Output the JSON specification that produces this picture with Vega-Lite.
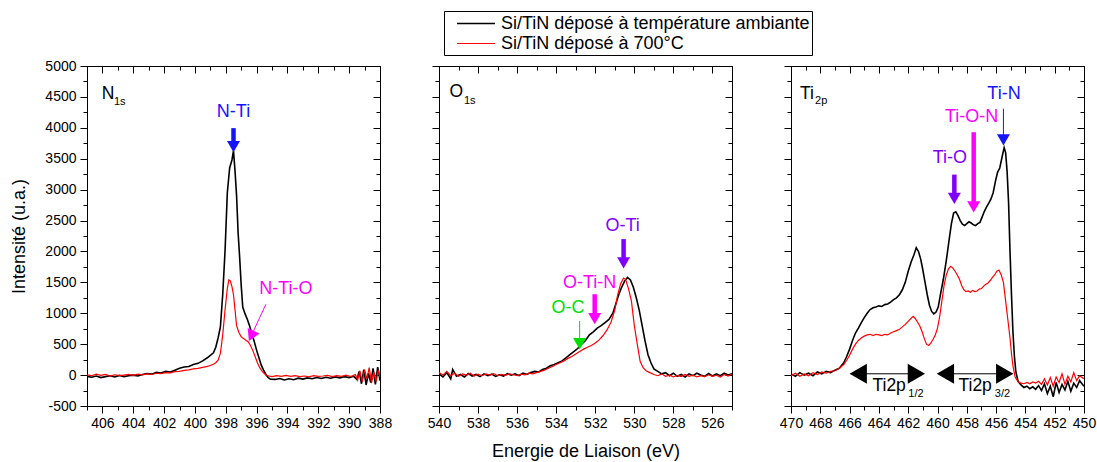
{
"$schema":"https://vega.github.io/schema/vega-lite/v6.json",
"padding":{"left":10,"top":10,"right":4,"bottom":4},
"background":"white",
"spacing":59,
"bounds":"flush",
"config":{"font":"Liberation Sans","axis":{"labelColor":"black","titleColor":"black","tickColor":"black","domainColor":"black","grid":false,"labelFontSize":14,"titleFontSize":18,"titleFontWeight":"normal","tickWidth":1,"domainWidth":1,"labelFlush":false,"labelOverlap":false},"view":{"stroke":"black","strokeWidth":1}},
"datasets":{
"n1s":[
{"E":407.0,"I":-20,"s":"a"},{"E":406.7,"I":-35,"s":"a"},{"E":406.4,"I":-15,"s":"a"},{"E":406.1,"I":-40,"s":"a"},{"E":405.8,"I":-25,"s":"a"},{"E":405.5,"I":-10,"s":"a"},{"E":405.2,"I":-30,"s":"a"},{"E":404.9,"I":-5,"s":"a"},{"E":404.6,"I":-25,"s":"a"},{"E":404.3,"I":-10,"s":"a"},{"E":404.0,"I":0,"s":"a"},{"E":403.7,"I":-15,"s":"a"},{"E":403.4,"I":10,"s":"a"},{"E":403.1,"I":25,"s":"a"},{"E":402.8,"I":15,"s":"a"},{"E":402.5,"I":45,"s":"a"},{"E":402.2,"I":35,"s":"a"},{"E":401.9,"I":60,"s":"a"},{"E":401.6,"I":50,"s":"a"},{"E":401.3,"I":80,"s":"a"},{"E":401.0,"I":110,"s":"a"},{"E":400.7,"I":130,"s":"a"},{"E":400.4,"I":140,"s":"a"},{"E":400.1,"I":170,"s":"a"},{"E":399.8,"I":190,"s":"a"},{"E":399.5,"I":230,"s":"a"},{"E":399.2,"I":280,"s":"a"},{"E":399.0,"I":320,"s":"a"},{"E":398.8,"I":360,"s":"a"},{"E":398.65,"I":450,"s":"a"},{"E":398.5,"I":600,"s":"a"},{"E":398.35,"I":780,"s":"a"},{"E":398.2,"I":1300,"s":"a"},{"E":398.05,"I":2000,"s":"a"},{"E":397.9,"I":2950,"s":"a"},{"E":397.75,"I":3350,"s":"a"},{"E":397.6,"I":3480,"s":"a"},{"E":397.5,"I":3630,"s":"a"},{"E":397.4,"I":3300,"s":"a"},{"E":397.3,"I":2900,"s":"a"},{"E":397.2,"I":2300,"s":"a"},{"E":397.1,"I":1900,"s":"a"},{"E":397.0,"I":1450,"s":"a"},{"E":396.9,"I":1100,"s":"a"},{"E":396.75,"I":990,"s":"a"},{"E":396.6,"I":900,"s":"a"},{"E":396.45,"I":790,"s":"a"},{"E":396.3,"I":660,"s":"a"},{"E":396.15,"I":540,"s":"a"},{"E":396.0,"I":400,"s":"a"},{"E":395.85,"I":280,"s":"a"},{"E":395.7,"I":160,"s":"a"},{"E":395.55,"I":80,"s":"a"},{"E":395.4,"I":10,"s":"a"},{"E":395.25,"I":-40,"s":"a"},{"E":395.1,"I":-65,"s":"a"},{"E":394.8,"I":-70,"s":"a"},{"E":394.5,"I":-55,"s":"a"},{"E":394.2,"I":-80,"s":"a"},{"E":393.9,"I":-60,"s":"a"},{"E":393.6,"I":-75,"s":"a"},{"E":393.3,"I":-50,"s":"a"},{"E":393.0,"I":-65,"s":"a"},{"E":392.7,"I":-45,"s":"a"},{"E":392.4,"I":-60,"s":"a"},{"E":392.1,"I":-40,"s":"a"},{"E":391.8,"I":-55,"s":"a"},{"E":391.5,"I":-35,"s":"a"},{"E":391.2,"I":-50,"s":"a"},{"E":390.9,"I":-30,"s":"a"},{"E":390.6,"I":-45,"s":"a"},{"E":390.3,"I":-25,"s":"a"},{"E":390.0,"I":-40,"s":"a"},{"E":389.7,"I":-20,"s":"a"},{"E":389.5,"I":-70,"s":"a"},{"E":389.35,"I":60,"s":"a"},{"E":389.2,"I":-140,"s":"a"},{"E":389.05,"I":90,"s":"a"},{"E":388.9,"I":-160,"s":"a"},{"E":388.75,"I":30,"s":"a"},{"E":388.6,"I":-120,"s":"a"},{"E":388.45,"I":110,"s":"a"},{"E":388.3,"I":-150,"s":"a"},{"E":388.15,"I":130,"s":"a"},{"E":388.0,"I":-90,"s":"a"},
{"E":407.0,"I":5,"s":"b"},{"E":406.7,"I":-10,"s":"b"},{"E":406.4,"I":15,"s":"b"},{"E":406.1,"I":-5,"s":"b"},{"E":405.8,"I":10,"s":"b"},{"E":405.5,"I":-15,"s":"b"},{"E":405.2,"I":5,"s":"b"},{"E":404.9,"I":-10,"s":"b"},{"E":404.6,"I":0,"s":"b"},{"E":404.3,"I":10,"s":"b"},{"E":404.0,"I":-5,"s":"b"},{"E":403.7,"I":15,"s":"b"},{"E":403.4,"I":5,"s":"b"},{"E":403.1,"I":20,"s":"b"},{"E":402.8,"I":10,"s":"b"},{"E":402.5,"I":30,"s":"b"},{"E":402.2,"I":25,"s":"b"},{"E":401.9,"I":40,"s":"b"},{"E":401.6,"I":35,"s":"b"},{"E":401.3,"I":55,"s":"b"},{"E":401.0,"I":60,"s":"b"},{"E":400.7,"I":75,"s":"b"},{"E":400.4,"I":85,"s":"b"},{"E":400.1,"I":100,"s":"b"},{"E":399.8,"I":110,"s":"b"},{"E":399.5,"I":125,"s":"b"},{"E":399.2,"I":140,"s":"b"},{"E":399.0,"I":155,"s":"b"},{"E":398.8,"I":175,"s":"b"},{"E":398.65,"I":200,"s":"b"},{"E":398.5,"I":240,"s":"b"},{"E":398.35,"I":350,"s":"b"},{"E":398.2,"I":650,"s":"b"},{"E":398.05,"I":1050,"s":"b"},{"E":397.9,"I":1400,"s":"b"},{"E":397.8,"I":1540,"s":"b"},{"E":397.7,"I":1520,"s":"b"},{"E":397.6,"I":1430,"s":"b"},{"E":397.5,"I":1300,"s":"b"},{"E":397.4,"I":1050,"s":"b"},{"E":397.3,"I":800,"s":"b"},{"E":397.15,"I":690,"s":"b"},{"E":397.0,"I":620,"s":"b"},{"E":396.85,"I":590,"s":"b"},{"E":396.7,"I":565,"s":"b"},{"E":396.55,"I":540,"s":"b"},{"E":396.4,"I":480,"s":"b"},{"E":396.25,"I":400,"s":"b"},{"E":396.1,"I":300,"s":"b"},{"E":395.95,"I":200,"s":"b"},{"E":395.8,"I":120,"s":"b"},{"E":395.6,"I":50,"s":"b"},{"E":395.4,"I":0,"s":"b"},{"E":395.2,"I":-15,"s":"b"},{"E":395.0,"I":-25,"s":"b"},{"E":394.7,"I":-10,"s":"b"},{"E":394.4,"I":-20,"s":"b"},{"E":394.1,"I":-5,"s":"b"},{"E":393.8,"I":-20,"s":"b"},{"E":393.5,"I":-10,"s":"b"},{"E":393.2,"I":-25,"s":"b"},{"E":392.9,"I":-15,"s":"b"},{"E":392.6,"I":-30,"s":"b"},{"E":392.3,"I":-10,"s":"b"},{"E":392.0,"I":-20,"s":"b"},{"E":391.7,"I":-15,"s":"b"},{"E":391.4,"I":-5,"s":"b"},{"E":391.1,"I":-25,"s":"b"},{"E":390.8,"I":-10,"s":"b"},{"E":390.5,"I":-20,"s":"b"},{"E":390.2,"I":0,"s":"b"},{"E":389.9,"I":-25,"s":"b"},{"E":389.6,"I":10,"s":"b"},{"E":389.45,"I":-80,"s":"b"},{"E":389.3,"I":70,"s":"b"},{"E":389.15,"I":-110,"s":"b"},{"E":389.0,"I":90,"s":"b"},{"E":388.85,"I":-60,"s":"b"},{"E":388.7,"I":120,"s":"b"},{"E":388.55,"I":-130,"s":"b"},{"E":388.4,"I":50,"s":"b"},{"E":388.25,"I":-100,"s":"b"},{"E":388.1,"I":80,"s":"b"},{"E":388.0,"I":-40,"s":"b"}
],
"o1s":[
{"E":540.0,"I":20,"s":"a"},{"E":539.8,"I":-30,"s":"a"},{"E":539.6,"I":40,"s":"a"},{"E":539.4,"I":-60,"s":"a"},{"E":539.3,"I":90,"s":"a"},{"E":539.1,"I":-20,"s":"a"},{"E":538.9,"I":10,"s":"a"},{"E":538.7,"I":-30,"s":"a"},{"E":538.5,"I":25,"s":"a"},{"E":538.3,"I":-15,"s":"a"},{"E":538.1,"I":10,"s":"a"},{"E":537.9,"I":-25,"s":"a"},{"E":537.7,"I":20,"s":"a"},{"E":537.5,"I":-10,"s":"a"},{"E":537.3,"I":15,"s":"a"},{"E":537.1,"I":-20,"s":"a"},{"E":536.9,"I":5,"s":"a"},{"E":536.7,"I":-15,"s":"a"},{"E":536.5,"I":25,"s":"a"},{"E":536.3,"I":0,"s":"a"},{"E":536.1,"I":20,"s":"a"},{"E":535.9,"I":-10,"s":"a"},{"E":535.7,"I":30,"s":"a"},{"E":535.5,"I":10,"s":"a"},{"E":535.3,"I":40,"s":"a"},{"E":535.1,"I":60,"s":"a"},{"E":534.9,"I":50,"s":"a"},{"E":534.7,"I":90,"s":"a"},{"E":534.5,"I":110,"s":"a"},{"E":534.3,"I":150,"s":"a"},{"E":534.1,"I":170,"s":"a"},{"E":533.9,"I":200,"s":"a"},{"E":533.7,"I":230,"s":"a"},{"E":533.5,"I":280,"s":"a"},{"E":533.3,"I":330,"s":"a"},{"E":533.1,"I":380,"s":"a"},{"E":532.9,"I":430,"s":"a"},{"E":532.7,"I":500,"s":"a"},{"E":532.5,"I":560,"s":"a"},{"E":532.3,"I":650,"s":"a"},{"E":532.1,"I":700,"s":"a"},{"E":531.9,"I":760,"s":"a"},{"E":531.7,"I":800,"s":"a"},{"E":531.5,"I":850,"s":"a"},{"E":531.3,"I":900,"s":"a"},{"E":531.1,"I":1000,"s":"a"},{"E":530.95,"I":1150,"s":"a"},{"E":530.8,"I":1300,"s":"a"},{"E":530.65,"I":1420,"s":"a"},{"E":530.5,"I":1520,"s":"a"},{"E":530.35,"I":1580,"s":"a"},{"E":530.2,"I":1540,"s":"a"},{"E":530.05,"I":1420,"s":"a"},{"E":529.9,"I":1250,"s":"a"},{"E":529.75,"I":1050,"s":"a"},{"E":529.6,"I":800,"s":"a"},{"E":529.45,"I":550,"s":"a"},{"E":529.3,"I":330,"s":"a"},{"E":529.15,"I":200,"s":"a"},{"E":529.0,"I":100,"s":"a"},{"E":528.8,"I":60,"s":"a"},{"E":528.6,"I":20,"s":"a"},{"E":528.4,"I":40,"s":"a"},{"E":528.2,"I":-10,"s":"a"},{"E":528.0,"I":30,"s":"a"},{"E":527.8,"I":-20,"s":"a"},{"E":527.6,"I":10,"s":"a"},{"E":527.4,"I":-30,"s":"a"},{"E":527.2,"I":20,"s":"a"},{"E":527.0,"I":-10,"s":"a"},{"E":526.8,"I":30,"s":"a"},{"E":526.6,"I":0,"s":"a"},{"E":526.4,"I":-20,"s":"a"},{"E":526.2,"I":25,"s":"a"},{"E":526.0,"I":-15,"s":"a"},{"E":525.8,"I":20,"s":"a"},{"E":525.6,"I":-10,"s":"a"},{"E":525.4,"I":30,"s":"a"},{"E":525.2,"I":0,"s":"a"},{"E":525.0,"I":20,"s":"a"},
{"E":540.0,"I":40,"s":"b"},{"E":539.8,"I":0,"s":"b"},{"E":539.6,"I":60,"s":"b"},{"E":539.4,"I":-10,"s":"b"},{"E":539.2,"I":30,"s":"b"},{"E":539.0,"I":-20,"s":"b"},{"E":538.8,"I":20,"s":"b"},{"E":538.6,"I":0,"s":"b"},{"E":538.4,"I":30,"s":"b"},{"E":538.2,"I":-15,"s":"b"},{"E":538.0,"I":15,"s":"b"},{"E":537.8,"I":-10,"s":"b"},{"E":537.6,"I":20,"s":"b"},{"E":537.4,"I":0,"s":"b"},{"E":537.2,"I":25,"s":"b"},{"E":537.0,"I":-10,"s":"b"},{"E":536.8,"I":10,"s":"b"},{"E":536.6,"I":-5,"s":"b"},{"E":536.4,"I":20,"s":"b"},{"E":536.2,"I":5,"s":"b"},{"E":536.0,"I":-10,"s":"b"},{"E":535.8,"I":15,"s":"b"},{"E":535.6,"I":5,"s":"b"},{"E":535.4,"I":30,"s":"b"},{"E":535.2,"I":20,"s":"b"},{"E":535.0,"I":40,"s":"b"},{"E":534.8,"I":60,"s":"b"},{"E":534.6,"I":80,"s":"b"},{"E":534.4,"I":110,"s":"b"},{"E":534.2,"I":140,"s":"b"},{"E":534.0,"I":170,"s":"b"},{"E":533.8,"I":200,"s":"b"},{"E":533.6,"I":230,"s":"b"},{"E":533.4,"I":270,"s":"b"},{"E":533.2,"I":300,"s":"b"},{"E":533.0,"I":340,"s":"b"},{"E":532.8,"I":380,"s":"b"},{"E":532.6,"I":420,"s":"b"},{"E":532.4,"I":450,"s":"b"},{"E":532.2,"I":480,"s":"b"},{"E":532.0,"I":520,"s":"b"},{"E":531.8,"I":570,"s":"b"},{"E":531.6,"I":640,"s":"b"},{"E":531.4,"I":730,"s":"b"},{"E":531.2,"I":850,"s":"b"},{"E":531.0,"I":1050,"s":"b"},{"E":530.85,"I":1300,"s":"b"},{"E":530.7,"I":1480,"s":"b"},{"E":530.55,"I":1570,"s":"b"},{"E":530.45,"I":1550,"s":"b"},{"E":530.3,"I":1400,"s":"b"},{"E":530.15,"I":1200,"s":"b"},{"E":530.0,"I":800,"s":"b"},{"E":529.85,"I":500,"s":"b"},{"E":529.7,"I":220,"s":"b"},{"E":529.55,"I":120,"s":"b"},{"E":529.4,"I":70,"s":"b"},{"E":529.2,"I":40,"s":"b"},{"E":529.0,"I":10,"s":"b"},{"E":528.8,"I":-10,"s":"b"},{"E":528.6,"I":20,"s":"b"},{"E":528.4,"I":-20,"s":"b"},{"E":528.2,"I":0,"s":"b"},{"E":528.0,"I":-30,"s":"b"},{"E":527.8,"I":-5,"s":"b"},{"E":527.6,"I":-25,"s":"b"},{"E":527.4,"I":10,"s":"b"},{"E":527.2,"I":-20,"s":"b"},{"E":527.0,"I":0,"s":"b"},{"E":526.8,"I":-30,"s":"b"},{"E":526.6,"I":-10,"s":"b"},{"E":526.4,"I":-25,"s":"b"},{"E":526.2,"I":5,"s":"b"},{"E":526.0,"I":-20,"s":"b"},{"E":525.8,"I":0,"s":"b"},{"E":525.6,"I":-30,"s":"b"},{"E":525.4,"I":10,"s":"b"},{"E":525.2,"I":-15,"s":"b"},{"E":525.0,"I":20,"s":"b"}
],
"ti2p":[
{"E":470.0,"I":20,"s":"a"},{"E":469.7,"I":-20,"s":"a"},{"E":469.4,"I":40,"s":"a"},{"E":469.1,"I":0,"s":"a"},{"E":468.8,"I":30,"s":"a"},{"E":468.5,"I":-10,"s":"a"},{"E":468.2,"I":50,"s":"a"},{"E":467.9,"I":20,"s":"a"},{"E":467.6,"I":60,"s":"a"},{"E":467.3,"I":40,"s":"a"},{"E":467.0,"I":80,"s":"a"},{"E":466.7,"I":110,"s":"a"},{"E":466.4,"I":200,"s":"a"},{"E":466.2,"I":300,"s":"a"},{"E":466.0,"I":420,"s":"a"},{"E":465.8,"I":560,"s":"a"},{"E":465.6,"I":680,"s":"a"},{"E":465.4,"I":760,"s":"a"},{"E":465.2,"I":850,"s":"a"},{"E":465.0,"I":930,"s":"a"},{"E":464.8,"I":1000,"s":"a"},{"E":464.6,"I":1060,"s":"a"},{"E":464.4,"I":1090,"s":"a"},{"E":464.2,"I":1100,"s":"a"},{"E":464.0,"I":1120,"s":"a"},{"E":463.8,"I":1110,"s":"a"},{"E":463.6,"I":1140,"s":"a"},{"E":463.4,"I":1150,"s":"a"},{"E":463.2,"I":1180,"s":"a"},{"E":463.0,"I":1220,"s":"a"},{"E":462.8,"I":1250,"s":"a"},{"E":462.6,"I":1300,"s":"a"},{"E":462.4,"I":1380,"s":"a"},{"E":462.2,"I":1500,"s":"a"},{"E":462.0,"I":1680,"s":"a"},{"E":461.8,"I":1830,"s":"a"},{"E":461.6,"I":1950,"s":"a"},{"E":461.45,"I":2060,"s":"a"},{"E":461.3,"I":2000,"s":"a"},{"E":461.15,"I":1880,"s":"a"},{"E":461.0,"I":1700,"s":"a"},{"E":460.85,"I":1500,"s":"a"},{"E":460.7,"I":1300,"s":"a"},{"E":460.55,"I":1130,"s":"a"},{"E":460.4,"I":1030,"s":"a"},{"E":460.25,"I":990,"s":"a"},{"E":460.1,"I":1020,"s":"a"},{"E":459.95,"I":1100,"s":"a"},{"E":459.8,"I":1300,"s":"a"},{"E":459.6,"I":1550,"s":"a"},{"E":459.4,"I":1850,"s":"a"},{"E":459.2,"I":2200,"s":"a"},{"E":459.05,"I":2450,"s":"a"},{"E":458.9,"I":2620,"s":"a"},{"E":458.75,"I":2640,"s":"a"},{"E":458.6,"I":2580,"s":"a"},{"E":458.45,"I":2500,"s":"a"},{"E":458.3,"I":2440,"s":"a"},{"E":458.15,"I":2420,"s":"a"},{"E":458.0,"I":2450,"s":"a"},{"E":457.85,"I":2480,"s":"a"},{"E":457.7,"I":2460,"s":"a"},{"E":457.55,"I":2430,"s":"a"},{"E":457.4,"I":2420,"s":"a"},{"E":457.25,"I":2450,"s":"a"},{"E":457.1,"I":2470,"s":"a"},{"E":456.95,"I":2560,"s":"a"},{"E":456.8,"I":2650,"s":"a"},{"E":456.65,"I":2720,"s":"a"},{"E":456.5,"I":2780,"s":"a"},{"E":456.35,"I":2850,"s":"a"},{"E":456.2,"I":2950,"s":"a"},{"E":456.05,"I":3130,"s":"a"},{"E":455.9,"I":3280,"s":"a"},{"E":455.75,"I":3350,"s":"a"},{"E":455.6,"I":3520,"s":"a"},{"E":455.45,"I":3680,"s":"a"},{"E":455.35,"I":3600,"s":"a"},{"E":455.25,"I":3300,"s":"a"},{"E":455.15,"I":2800,"s":"a"},{"E":455.05,"I":2000,"s":"a"},{"E":454.95,"I":1300,"s":"a"},{"E":454.85,"I":700,"s":"a"},{"E":454.75,"I":300,"s":"a"},{"E":454.65,"I":50,"s":"a"},{"E":454.5,"I":-100,"s":"a"},{"E":454.3,"I":-160,"s":"a"},{"E":454.1,"I":-200,"s":"a"},{"E":453.9,"I":-180,"s":"a"},{"E":453.7,"I":-220,"s":"a"},{"E":453.5,"I":-190,"s":"a"},{"E":453.3,"I":-230,"s":"a"},{"E":453.1,"I":-170,"s":"a"},{"E":452.9,"I":-250,"s":"a"},{"E":452.7,"I":-140,"s":"a"},{"E":452.5,"I":-300,"s":"a"},{"E":452.3,"I":-180,"s":"a"},{"E":452.1,"I":-350,"s":"a"},{"E":451.9,"I":-120,"s":"a"},{"E":451.7,"I":-280,"s":"a"},{"E":451.5,"I":-150,"s":"a"},{"E":451.3,"I":-240,"s":"a"},{"E":451.1,"I":-100,"s":"a"},{"E":450.9,"I":-260,"s":"a"},{"E":450.7,"I":-130,"s":"a"},{"E":450.5,"I":-200,"s":"a"},{"E":450.3,"I":-90,"s":"a"},{"E":450.0,"I":-180,"s":"a"},
{"E":470.0,"I":-10,"s":"b"},{"E":469.7,"I":30,"s":"b"},{"E":469.4,"I":-20,"s":"b"},{"E":469.1,"I":20,"s":"b"},{"E":468.8,"I":-10,"s":"b"},{"E":468.5,"I":40,"s":"b"},{"E":468.2,"I":10,"s":"b"},{"E":467.9,"I":50,"s":"b"},{"E":467.6,"I":30,"s":"b"},{"E":467.3,"I":60,"s":"b"},{"E":467.0,"I":70,"s":"b"},{"E":466.7,"I":110,"s":"b"},{"E":466.4,"I":170,"s":"b"},{"E":466.2,"I":240,"s":"b"},{"E":466.0,"I":320,"s":"b"},{"E":465.8,"I":420,"s":"b"},{"E":465.6,"I":500,"s":"b"},{"E":465.4,"I":560,"s":"b"},{"E":465.2,"I":600,"s":"b"},{"E":465.0,"I":630,"s":"b"},{"E":464.8,"I":650,"s":"b"},{"E":464.6,"I":660,"s":"b"},{"E":464.4,"I":640,"s":"b"},{"E":464.2,"I":660,"s":"b"},{"E":464.0,"I":650,"s":"b"},{"E":463.8,"I":640,"s":"b"},{"E":463.6,"I":660,"s":"b"},{"E":463.4,"I":650,"s":"b"},{"E":463.2,"I":680,"s":"b"},{"E":463.0,"I":700,"s":"b"},{"E":462.8,"I":720,"s":"b"},{"E":462.6,"I":740,"s":"b"},{"E":462.4,"I":780,"s":"b"},{"E":462.2,"I":820,"s":"b"},{"E":462.0,"I":870,"s":"b"},{"E":461.8,"I":920,"s":"b"},{"E":461.65,"I":950,"s":"b"},{"E":461.5,"I":910,"s":"b"},{"E":461.35,"I":850,"s":"b"},{"E":461.2,"I":790,"s":"b"},{"E":461.05,"I":700,"s":"b"},{"E":460.9,"I":590,"s":"b"},{"E":460.75,"I":500,"s":"b"},{"E":460.6,"I":480,"s":"b"},{"E":460.45,"I":520,"s":"b"},{"E":460.3,"I":580,"s":"b"},{"E":460.15,"I":650,"s":"b"},{"E":460.0,"I":760,"s":"b"},{"E":459.85,"I":950,"s":"b"},{"E":459.7,"I":1200,"s":"b"},{"E":459.55,"I":1450,"s":"b"},{"E":459.4,"I":1620,"s":"b"},{"E":459.25,"I":1720,"s":"b"},{"E":459.1,"I":1760,"s":"b"},{"E":458.95,"I":1730,"s":"b"},{"E":458.8,"I":1680,"s":"b"},{"E":458.65,"I":1620,"s":"b"},{"E":458.5,"I":1550,"s":"b"},{"E":458.35,"I":1450,"s":"b"},{"E":458.2,"I":1380,"s":"b"},{"E":458.05,"I":1350,"s":"b"},{"E":457.9,"I":1360,"s":"b"},{"E":457.75,"I":1340,"s":"b"},{"E":457.6,"I":1370,"s":"b"},{"E":457.45,"I":1350,"s":"b"},{"E":457.3,"I":1360,"s":"b"},{"E":457.15,"I":1390,"s":"b"},{"E":457.0,"I":1400,"s":"b"},{"E":456.85,"I":1440,"s":"b"},{"E":456.7,"I":1470,"s":"b"},{"E":456.55,"I":1490,"s":"b"},{"E":456.4,"I":1530,"s":"b"},{"E":456.25,"I":1580,"s":"b"},{"E":456.1,"I":1620,"s":"b"},{"E":455.95,"I":1680,"s":"b"},{"E":455.8,"I":1700,"s":"b"},{"E":455.65,"I":1620,"s":"b"},{"E":455.5,"I":1500,"s":"b"},{"E":455.35,"I":1200,"s":"b"},{"E":455.2,"I":900,"s":"b"},{"E":455.05,"I":600,"s":"b"},{"E":454.95,"I":350,"s":"b"},{"E":454.85,"I":150,"s":"b"},{"E":454.7,"I":-30,"s":"b"},{"E":454.5,"I":-110,"s":"b"},{"E":454.3,"I":-130,"s":"b"},{"E":454.1,"I":-140,"s":"b"},{"E":453.9,"I":-120,"s":"b"},{"E":453.7,"I":-140,"s":"b"},{"E":453.5,"I":-110,"s":"b"},{"E":453.3,"I":-130,"s":"b"},{"E":453.1,"I":-100,"s":"b"},{"E":452.9,"I":-150,"s":"b"},{"E":452.7,"I":-60,"s":"b"},{"E":452.5,"I":-160,"s":"b"},{"E":452.3,"I":-40,"s":"b"},{"E":452.1,"I":-180,"s":"b"},{"E":451.9,"I":-30,"s":"b"},{"E":451.7,"I":-120,"s":"b"},{"E":451.5,"I":20,"s":"b"},{"E":451.3,"I":-150,"s":"b"},{"E":451.1,"I":-20,"s":"b"},{"E":450.9,"I":-110,"s":"b"},{"E":450.7,"I":40,"s":"b"},{"E":450.5,"I":-90,"s":"b"},{"E":450.3,"I":-10,"s":"b"},{"E":450.0,"I":-60,"s":"b"}
],
"txt1":[{"E":397.5,"I":4254,"t":"N-Ti","g":"nitride"},{"E":394.1,"I":1389,"t":"N-Ti-O","g":"oxynitride"}],
"sh1":[{"E":397.5,"E2":397.5,"I":3995,"I2":3760,"g":"nitride","w":"thick"},{"E":395.4,"E2":396.35,"I":1146,"I2":634,"g":"oxynitride","w":"thin"}],
"hd1":[{"E":397.5,"I":3697,"g":"nitride"}],
"hr1":[{"E":396.35,"I":634,"g":"oxynitride"}],
"lab1":[{"E":406.05,"I":4459,"t":"N","role":"main"},{"E":405.25,"I":4362,"t":"1s","role":"sub"}],
"txt2":[{"E":530.6,"I":2416,"t":"O-Ti","g":"oxide"},{"E":532.29,"I":1490,"t":"O-Ti-N","g":"oxynitride"},{"E":533.4,"I":1092,"t":"O-C","g":"carbon"}],
"sh2":[{"E":530.55,"E2":530.55,"I":2200,"I2":1850,"g":"oxide","w":"thick"},{"E":532.03,"E2":532.03,"I":1308,"I2":990,"g":"oxynitride","w":"thick"},{"E":532.8,"E2":532.8,"I":876,"I2":540,"g":"carbon","w":"thin"}],
"hd2":[{"E":530.55,"I":1815,"g":"oxide"},{"E":532.03,"I":913,"g":"oxynitride"},{"E":532.8,"I":507,"g":"carbon"}],
"lab2":[{"E":539.46,"I":4497,"t":"O","role":"main"},{"E":538.72,"I":4389,"t":"1s","role":"sub"}],
"txt3":[{"E":455.46,"I":4552,"t":"Ti-N","g":"nitride"},{"E":457.67,"I":4172,"t":"Ti-O-N","g":"oxynitride"},{"E":459.15,"I":3513,"t":"Ti-O","g":"oxide"}],
"sh3":[{"E":455.5,"E2":455.5,"I":4308,"I2":3850,"g":"nitride","w":"thin"},{"E":457.53,"E2":457.53,"I":3929,"I2":2800,"g":"oxynitride","w":"thick"},{"E":458.85,"E2":458.85,"I":3243,"I2":2930,"g":"oxide","w":"thick"},{"E":465.41,"E2":461.44,"I":21,"I2":21,"g":"doublet","w":"thin"},{"E":459.46,"E2":455.41,"I":21,"I2":21,"g":"doublet","w":"thin"}],
"hd3":[{"E":455.5,"I":3804,"g":"nitride"},{"E":457.53,"I":2723,"g":"oxynitride"},{"E":458.85,"I":2859,"g":"oxide"}],
"dh3":[{"E":465.41,"I":21,"dir":"left"},{"E":461.44,"I":21,"dir":"right"},{"E":459.46,"I":21,"dir":"left"},{"E":455.41,"I":21,"dir":"right"}],
"lab3":[{"E":469.39,"I":4470,"t":"Ti","role":"main"},{"E":468.36,"I":4378,"t":"2p","role":"sub"},{"E":464.44,"I":-259,"t":"Ti2p","role":"main"},{"E":461.99,"I":-357,"t":"1/2","role":"sub"},{"E":458.57,"I":-259,"t":"Ti2p","role":"main"},{"E":456.09,"I":-357,"t":"3/2","role":"sub"}]
},
"hconcat":[
{"width":293,"height":340,"resolve":{"axis":{"x":"independent","y":"independent"}},
"layer":[
{"data":{"name":"n1s"},"mark":{"type":"line","clip":true},"encoding":{
"x":{"field":"E","type":"quantitative","scale":{"domain":[388,407],"reverse":true,"nice":false,"zero":false},"axis":{"orient":"bottom","values":[406,404,402,400,398,396,394,392,390,388],"title":null,"tickSize":7,"labelPadding":3}},
"y":{"field":"I","type":"quantitative","scale":{"domain":[-500,5000],"nice":false,"zero":false},"axis":{"orient":"left","values":[-500,0,500,1000,1500,2000,2500,3000,3500,4000,4500,5000],"labelExpr":"'' + datum.value","title":"Intensité (u.a.)","titlePadding":16,"tickSize":7,"labelPadding":4}},
"color":{"field":"s","type":"nominal","scale":{"domain":["a","b"],"range":["#000000","#ff0000"]},"legend":{"orient":"none","legendX":357,"legendY":-55,"zindex":2,"title":null,"labelExpr":"datum.value == 'a' ? 'Si/TiN déposé à température ambiante' : 'Si/TiN déposé à 700°C'","labelFontSize":18,"labelLimit":600,"labelColor":"black","symbolType":"M-2,0H2","symbolSize":361,"strokeColor":"black","fillColor":"white","padding":2,"rowPadding":-2,"labelOffset":14.5,"symbolOffset":19.5,"encode":{"symbols":{"update":{"strokeWidth":{"signal":"datum.value === 'a' ? 3.5 : 1"}}}}}},
"strokeWidth":{"field":"s","type":"nominal","scale":{"domain":["a","b"],"range":[1.6,1.2]},"legend":null}}},
{"data":{"name":"n1s"},"mark":{"type":"point","opacity":0},"encoding":{
"x":{"field":"E","type":"quantitative","scale":{"domain":[388,407],"reverse":true,"nice":false,"zero":false},"axis":{"orient":"bottom","values":[407,405,403,401,399,397,395,393,391,389],"labels":false,"domain":false,"tickSize":4,"title":null}},
"y":{"field":"I","type":"quantitative","scale":{"domain":[-500,5000],"nice":false,"zero":false},"axis":{"orient":"left","values":[-250,250,750,1250,1750,2250,2750,3250,3750,4250,4750],"labels":false,"domain":false,"tickSize":4,"title":null}}}},
{"data":{"name":"n1s"},"mark":{"type":"point","opacity":0},"encoding":{
"x":{"field":"E","type":"quantitative","scale":{"domain":[388,407],"reverse":true,"nice":false,"zero":false},"axis":{"orient":"top","values":[406,404,402,400,398,396,394,392,390,388],"labels":false,"domain":false,"tickSize":7,"offset":-7,"title":null}},
"y":{"field":"I","type":"quantitative","scale":{"domain":[-500,5000],"nice":false,"zero":false},"axis":{"orient":"right","values":[-500,0,500,1000,1500,2000,2500,3000,3500,4000,4500,5000],"labels":false,"domain":false,"tickSize":7,"offset":-7,"title":null}}}},
{"data":{"name":"n1s"},"mark":{"type":"point","opacity":0},"encoding":{
"x":{"field":"E","type":"quantitative","scale":{"domain":[388,407],"reverse":true,"nice":false,"zero":false},"axis":{"orient":"top","values":[407,405,403,401,399,397,395,393,391,389],"labels":false,"domain":false,"tickSize":4,"offset":-4,"title":null}},
"y":{"field":"I","type":"quantitative","scale":{"domain":[-500,5000],"nice":false,"zero":false},"axis":{"orient":"right","values":[-250,250,750,1250,1750,2250,2750,3250,3750,4250,4750],"labels":false,"domain":false,"tickSize":4,"offset":-4,"title":null}}}},
{"data":{"name":"sh1"},"transform":[{"filter":"datum.w == 'thick'"}],"mark":{"type":"rule","strokeWidth":4.5},"encoding":{"x":{"field":"E","type":"quantitative","axis":null},"x2":{"field":"E2"},"y":{"field":"I","type":"quantitative","axis":null},"y2":{"field":"I2"},"stroke":{"field":"g","type":"nominal","scale":{"domain":["nitride","oxynitride","oxide","carbon","doublet"],"range":["#1414ff","#ff00ff","#8000ff","#00e000","#000000"]},"legend":null}}},
{"data":{"name":"sh1"},"transform":[{"filter":"datum.w == 'thin'"}],"mark":{"type":"rule","strokeWidth":1},"encoding":{"x":{"field":"E","type":"quantitative","axis":null},"x2":{"field":"E2"},"y":{"field":"I","type":"quantitative","axis":null},"y2":{"field":"I2"},"stroke":{"field":"g","type":"nominal","scale":{"domain":["nitride","oxynitride","oxide","carbon","doublet"],"range":["#1414ff","#ff00ff","#8000ff","#00e000","#000000"]},"legend":null}}},
{"data":{"name":"hd1"},"mark":{"type":"point","shape":"triangle-down","size":169,"filled":true,"opacity":1,"strokeWidth":0},"encoding":{"x":{"field":"E","type":"quantitative","axis":null},"y":{"field":"I","type":"quantitative","axis":null},"fill":{"field":"g","type":"nominal","scale":{"domain":["nitride","oxynitride","oxide","carbon","doublet"],"range":["#1414ff","#ff00ff","#8000ff","#00e000","#000000"]},"legend":null}}},
{"data":{"name":"hr1"},"mark":{"type":"point","shape":"triangle-down","size":169,"filled":true,"opacity":1,"strokeWidth":0,"angle":24.5},"encoding":{"x":{"field":"E","type":"quantitative","axis":null},"y":{"field":"I","type":"quantitative","axis":null},"fill":{"field":"g","type":"nominal","scale":{"domain":["nitride","oxynitride","oxide","carbon","doublet"],"range":["#1414ff","#ff00ff","#8000ff","#00e000","#000000"]},"legend":null}}},
{"data":{"name":"txt1"},"mark":{"type":"text","fontSize":18,"align":"center","baseline":"middle"},"encoding":{"x":{"field":"E","type":"quantitative","axis":null},"y":{"field":"I","type":"quantitative","axis":null},"text":{"field":"t"},"fill":{"field":"g","type":"nominal","scale":{"domain":["nitride","oxynitride","oxide","carbon","doublet"],"range":["#1414ff","#ff00ff","#8000ff","#00e000","#000000"]},"legend":null}}},
{"data":{"name":"lab1"},"transform":[{"filter":"datum.role == 'main'"}],"mark":{"type":"text","fontSize":17.5,"align":"left","baseline":"alphabetic","color":"black"},"encoding":{"x":{"field":"E","type":"quantitative","axis":null},"y":{"field":"I","type":"quantitative","axis":null},"text":{"field":"t"}}},
{"data":{"name":"lab1"},"transform":[{"filter":"datum.role == 'sub'"}],"mark":{"type":"text","fontSize":11,"align":"left","baseline":"alphabetic","color":"black"},"encoding":{"x":{"field":"E","type":"quantitative","axis":null},"y":{"field":"I","type":"quantitative","axis":null},"text":{"field":"t"}}}
]},
{"width":293,"height":340,"resolve":{"axis":{"x":"independent","y":"independent"}},
"layer":[
{"data":{"name":"o1s"},"mark":{"type":"line","clip":true},"encoding":{
"x":{"field":"E","type":"quantitative","scale":{"domain":[525,540],"reverse":true,"nice":false,"zero":false},"axis":{"orient":"bottom","values":[540,538,536,534,532,530,528,526],"title":"Energie de Liaison (eV)","titlePadding":12,"tickSize":7,"labelPadding":3}},
"y":{"field":"I","type":"quantitative","scale":{"domain":[-500,5000],"nice":false,"zero":false},"axis":{"orient":"left","values":[-500,0,500,1000,1500,2000,2500,3000,3500,4000,4500,5000],"labels":false,"title":null,"tickSize":7}},
"color":{"field":"s","type":"nominal","scale":{"domain":["a","b"],"range":["#000000","#ff0000"]},"legend":{"orient":"none","legendX":357,"legendY":-55,"zindex":2,"title":null,"labelExpr":"datum.value == 'a' ? 'Si/TiN déposé à température ambiante' : 'Si/TiN déposé à 700°C'","labelFontSize":18,"labelLimit":600,"labelColor":"black","symbolType":"M-2,0H2","symbolSize":361,"strokeColor":"black","fillColor":"white","padding":2,"rowPadding":-2,"labelOffset":14.5,"symbolOffset":19.5,"encode":{"symbols":{"update":{"strokeWidth":{"signal":"datum.value === 'a' ? 3.5 : 1"}}}}}},
"strokeWidth":{"field":"s","type":"nominal","scale":{"domain":["a","b"],"range":[1.6,1.2]},"legend":null}}},
{"data":{"name":"o1s"},"mark":{"type":"point","opacity":0},"encoding":{
"x":{"field":"E","type":"quantitative","scale":{"domain":[525,540],"reverse":true,"nice":false,"zero":false},"axis":{"orient":"bottom","values":[539,537,535,533,531,529,527,525],"labels":false,"domain":false,"tickSize":4,"title":null}},
"y":{"field":"I","type":"quantitative","scale":{"domain":[-500,5000],"nice":false,"zero":false},"axis":{"orient":"left","values":[-250,250,750,1250,1750,2250,2750,3250,3750,4250,4750],"labels":false,"domain":false,"tickSize":4,"title":null}}}},
{"data":{"name":"o1s"},"mark":{"type":"point","opacity":0},"encoding":{
"x":{"field":"E","type":"quantitative","scale":{"domain":[525,540],"reverse":true,"nice":false,"zero":false},"axis":{"orient":"top","values":[540,538,536,534,532,530,528,526],"labels":false,"domain":false,"tickSize":7,"offset":-7,"title":null}},
"y":{"field":"I","type":"quantitative","scale":{"domain":[-500,5000],"nice":false,"zero":false},"axis":{"orient":"right","values":[-500,0,500,1000,1500,2000,2500,3000,3500,4000,4500,5000],"labels":false,"domain":false,"tickSize":7,"offset":-7,"title":null}}}},
{"data":{"name":"o1s"},"mark":{"type":"point","opacity":0},"encoding":{
"x":{"field":"E","type":"quantitative","scale":{"domain":[525,540],"reverse":true,"nice":false,"zero":false},"axis":{"orient":"top","values":[539,537,535,533,531,529,527,525],"labels":false,"domain":false,"tickSize":4,"offset":-4,"title":null}},
"y":{"field":"I","type":"quantitative","scale":{"domain":[-500,5000],"nice":false,"zero":false},"axis":{"orient":"right","values":[-250,250,750,1250,1750,2250,2750,3250,3750,4250,4750],"labels":false,"domain":false,"tickSize":4,"offset":-4,"title":null}}}},
{"data":{"name":"sh2"},"transform":[{"filter":"datum.w == 'thick'"}],"mark":{"type":"rule","strokeWidth":4.5},"encoding":{"x":{"field":"E","type":"quantitative","axis":null},"x2":{"field":"E2"},"y":{"field":"I","type":"quantitative","axis":null},"y2":{"field":"I2"},"stroke":{"field":"g","type":"nominal","scale":{"domain":["nitride","oxynitride","oxide","carbon","doublet"],"range":["#1414ff","#ff00ff","#8000ff","#00e000","#000000"]},"legend":null}}},
{"data":{"name":"sh2"},"transform":[{"filter":"datum.w == 'thin'"}],"mark":{"type":"rule","strokeWidth":1},"encoding":{"x":{"field":"E","type":"quantitative","axis":null},"x2":{"field":"E2"},"y":{"field":"I","type":"quantitative","axis":null},"y2":{"field":"I2"},"stroke":{"field":"g","type":"nominal","scale":{"domain":["nitride","oxynitride","oxide","carbon","doublet"],"range":["#1414ff","#ff00ff","#8000ff","#00e000","#000000"]},"legend":null}}},
{"data":{"name":"hd2"},"mark":{"type":"point","shape":"triangle-down","size":169,"filled":true,"opacity":1,"strokeWidth":0},"encoding":{"x":{"field":"E","type":"quantitative","axis":null},"y":{"field":"I","type":"quantitative","axis":null},"fill":{"field":"g","type":"nominal","scale":{"domain":["nitride","oxynitride","oxide","carbon","doublet"],"range":["#1414ff","#ff00ff","#8000ff","#00e000","#000000"]},"legend":null}}},
{"data":{"name":"txt2"},"mark":{"type":"text","fontSize":18,"align":"center","baseline":"middle"},"encoding":{"x":{"field":"E","type":"quantitative","axis":null},"y":{"field":"I","type":"quantitative","axis":null},"text":{"field":"t"},"fill":{"field":"g","type":"nominal","scale":{"domain":["nitride","oxynitride","oxide","carbon","doublet"],"range":["#1414ff","#ff00ff","#8000ff","#00e000","#000000"]},"legend":null}}},
{"data":{"name":"lab2"},"transform":[{"filter":"datum.role == 'main'"}],"mark":{"type":"text","fontSize":17.5,"align":"left","baseline":"alphabetic","color":"black"},"encoding":{"x":{"field":"E","type":"quantitative","axis":null},"y":{"field":"I","type":"quantitative","axis":null},"text":{"field":"t"}}},
{"data":{"name":"lab2"},"transform":[{"filter":"datum.role == 'sub'"}],"mark":{"type":"text","fontSize":11,"align":"left","baseline":"alphabetic","color":"black"},"encoding":{"x":{"field":"E","type":"quantitative","axis":null},"y":{"field":"I","type":"quantitative","axis":null},"text":{"field":"t"}}}
]},
{"width":293,"height":340,"resolve":{"axis":{"x":"independent","y":"independent"}},
"layer":[
{"data":{"name":"ti2p"},"mark":{"type":"line","clip":true},"encoding":{
"x":{"field":"E","type":"quantitative","scale":{"domain":[450,470],"reverse":true,"nice":false,"zero":false},"axis":{"orient":"bottom","values":[470,468,466,464,462,460,458,456,454,452,450],"title":null,"tickSize":7,"labelPadding":3}},
"y":{"field":"I","type":"quantitative","scale":{"domain":[-500,5000],"nice":false,"zero":false},"axis":{"orient":"left","values":[-500,0,500,1000,1500,2000,2500,3000,3500,4000,4500,5000],"labels":false,"title":null,"tickSize":7}},
"color":{"field":"s","type":"nominal","scale":{"domain":["a","b"],"range":["#000000","#ff0000"]},"legend":{"orient":"none","legendX":357,"legendY":-55,"zindex":2,"title":null,"labelExpr":"datum.value == 'a' ? 'Si/TiN déposé à température ambiante' : 'Si/TiN déposé à 700°C'","labelFontSize":18,"labelLimit":600,"labelColor":"black","symbolType":"M-2,0H2","symbolSize":361,"strokeColor":"black","fillColor":"white","padding":2,"rowPadding":-2,"labelOffset":14.5,"symbolOffset":19.5,"encode":{"symbols":{"update":{"strokeWidth":{"signal":"datum.value === 'a' ? 3.5 : 1"}}}}}},
"strokeWidth":{"field":"s","type":"nominal","scale":{"domain":["a","b"],"range":[1.6,1.2]},"legend":null}}},
{"data":{"name":"ti2p"},"mark":{"type":"point","opacity":0},"encoding":{
"x":{"field":"E","type":"quantitative","scale":{"domain":[450,470],"reverse":true,"nice":false,"zero":false},"axis":{"orient":"bottom","values":[469,467,465,463,461,459,457,455,453,451],"labels":false,"domain":false,"tickSize":4,"title":null}},
"y":{"field":"I","type":"quantitative","scale":{"domain":[-500,5000],"nice":false,"zero":false},"axis":{"orient":"left","values":[-250,250,750,1250,1750,2250,2750,3250,3750,4250,4750],"labels":false,"domain":false,"tickSize":4,"title":null}}}},
{"data":{"name":"ti2p"},"mark":{"type":"point","opacity":0},"encoding":{
"x":{"field":"E","type":"quantitative","scale":{"domain":[450,470],"reverse":true,"nice":false,"zero":false},"axis":{"orient":"top","values":[470,468,466,464,462,460,458,456,454,452,450],"labels":false,"domain":false,"tickSize":7,"offset":-7,"title":null}},
"y":{"field":"I","type":"quantitative","scale":{"domain":[-500,5000],"nice":false,"zero":false},"axis":{"orient":"right","values":[-500,0,500,1000,1500,2000,2500,3000,3500,4000,4500,5000],"labels":false,"domain":false,"tickSize":7,"offset":-7,"title":null}}}},
{"data":{"name":"ti2p"},"mark":{"type":"point","opacity":0},"encoding":{
"x":{"field":"E","type":"quantitative","scale":{"domain":[450,470],"reverse":true,"nice":false,"zero":false},"axis":{"orient":"top","values":[469,467,465,463,461,459,457,455,453,451],"labels":false,"domain":false,"tickSize":4,"offset":-4,"title":null}},
"y":{"field":"I","type":"quantitative","scale":{"domain":[-500,5000],"nice":false,"zero":false},"axis":{"orient":"right","values":[-250,250,750,1250,1750,2250,2750,3250,3750,4250,4750],"labels":false,"domain":false,"tickSize":4,"offset":-4,"title":null}}}},
{"data":{"name":"sh3"},"transform":[{"filter":"datum.w == 'thick'"}],"mark":{"type":"rule","strokeWidth":4.5},"encoding":{"x":{"field":"E","type":"quantitative","axis":null},"x2":{"field":"E2"},"y":{"field":"I","type":"quantitative","axis":null},"y2":{"field":"I2"},"stroke":{"field":"g","type":"nominal","scale":{"domain":["nitride","oxynitride","oxide","carbon","doublet"],"range":["#1414ff","#ff00ff","#8000ff","#00e000","#000000"]},"legend":null}}},
{"data":{"name":"sh3"},"transform":[{"filter":"datum.w == 'thin'"}],"mark":{"type":"rule","strokeWidth":1},"encoding":{"x":{"field":"E","type":"quantitative","axis":null},"x2":{"field":"E2"},"y":{"field":"I","type":"quantitative","axis":null},"y2":{"field":"I2"},"stroke":{"field":"g","type":"nominal","scale":{"domain":["nitride","oxynitride","oxide","carbon","doublet"],"range":["#1414ff","#ff00ff","#8000ff","#00e000","#000000"]},"legend":null}}},
{"data":{"name":"hd3"},"mark":{"type":"point","shape":"triangle-down","size":169,"filled":true,"opacity":1,"strokeWidth":0},"encoding":{"x":{"field":"E","type":"quantitative","axis":null},"y":{"field":"I","type":"quantitative","axis":null},"fill":{"field":"g","type":"nominal","scale":{"domain":["nitride","oxynitride","oxide","carbon","doublet"],"range":["#1414ff","#ff00ff","#8000ff","#00e000","#000000"]},"legend":null}}},
{"data":{"name":"dh3"},"mark":{"type":"point","size":400,"filled":true,"opacity":1,"strokeWidth":0,"color":"black"},"encoding":{"x":{"field":"E","type":"quantitative","axis":null},"y":{"field":"I","type":"quantitative","axis":null},"shape":{"field":"dir","type":"nominal","scale":{"domain":["left","right"],"range":["triangle-left","triangle-right"]},"legend":null}}},
{"data":{"name":"txt3"},"mark":{"type":"text","fontSize":18,"align":"center","baseline":"middle"},"encoding":{"x":{"field":"E","type":"quantitative","axis":null},"y":{"field":"I","type":"quantitative","axis":null},"text":{"field":"t"},"fill":{"field":"g","type":"nominal","scale":{"domain":["nitride","oxynitride","oxide","carbon","doublet"],"range":["#1414ff","#ff00ff","#8000ff","#00e000","#000000"]},"legend":null}}},
{"data":{"name":"lab3"},"transform":[{"filter":"datum.role == 'main'"}],"mark":{"type":"text","fontSize":17.5,"align":"left","baseline":"alphabetic","color":"black"},"encoding":{"x":{"field":"E","type":"quantitative","axis":null},"y":{"field":"I","type":"quantitative","axis":null},"text":{"field":"t"}}},
{"data":{"name":"lab3"},"transform":[{"filter":"datum.role == 'sub'"}],"mark":{"type":"text","fontSize":11,"align":"left","baseline":"alphabetic","color":"black"},"encoding":{"x":{"field":"E","type":"quantitative","axis":null},"y":{"field":"I","type":"quantitative","axis":null},"text":{"field":"t"}}}
]}
]
}
